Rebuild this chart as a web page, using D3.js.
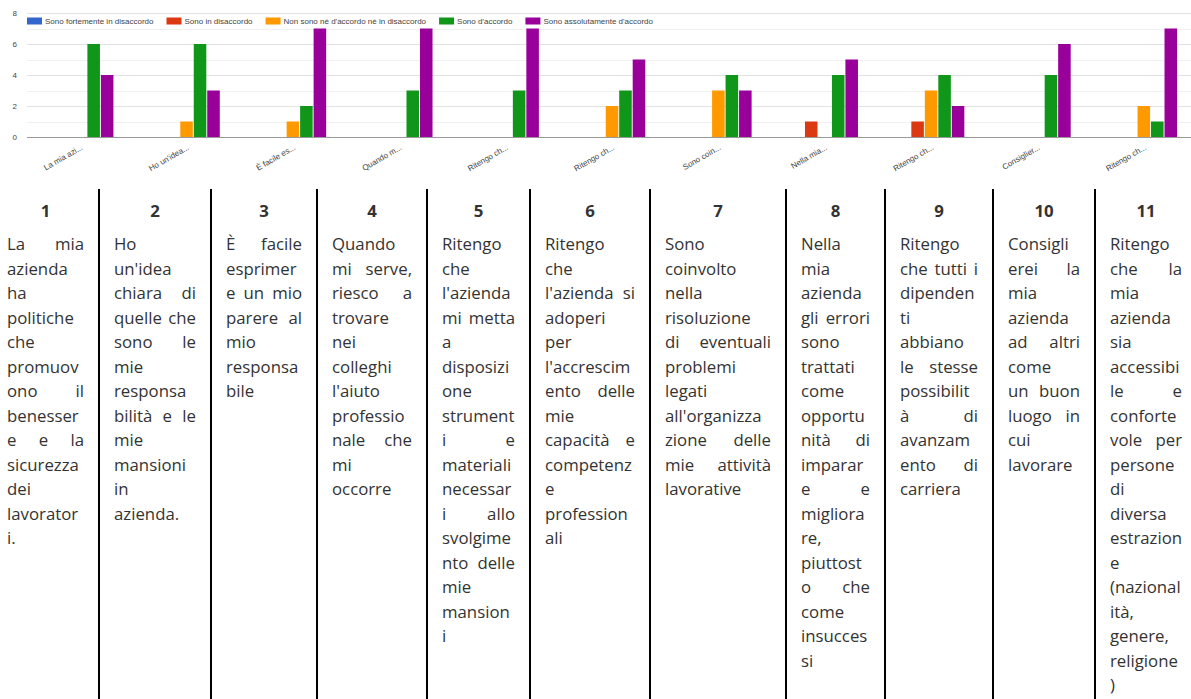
<!DOCTYPE html>
<html>
<head>
<meta charset="utf-8">
<script src="https://cdn.jsdelivr.net/npm/d3@7"></script>
<style>
  html, body { margin: 0; padding: 0; background: #fff; }
  svg { display: block; }
</style>
</head>
<body>
<svg id="page" width="1191" height="699"></svg>
<script>
// ---- survey data ---------------------------------------------------------
const categories = [
  "La mia azi...", "Ho un'idea...", "È facile es...", "Quando m...",
  "Ritengo ch...", "Ritengo ch...", "Sono coin...", "Nella mia...",
  "Ritengo ch...", "Consiglier...", "Ritengo ch..."
];
const seriesNames = [
  "Sono fortemente in disaccordo",
  "Sono in disaccordo",
  "Non sono né d'accordo né in disaccordo",
  "Sono d'accordo",
  "Sono assolutamente d'accordo"
];
const seriesColors = ["#3366cc", "#dc3912", "#ff9900", "#109618", "#990099"];

const stronglyDisagree = [0, 0, 0, 0, 0, 0, 0, 0, 0, 0, 0];
const disagree         = [0, 0, 0, 0, 0, 0, 0, 1, 1, 0, 0];
const neutral          = [0, 1, 1, 0, 0, 2, 3, 0, 3, 0, 2];
const agree            = [6, 6, 2, 3, 3, 3, 4, 4, 4, 4, 1];
const stronglyAgree    = [4, 3, 7, 7, 7, 5, 3, 5, 2, 6, 7];
const seriesValues = [stronglyDisagree, disagree, neutral, agree, stronglyAgree];

const yTicks = [0, 2, 4, 6, 8];
const yGridLines = [1, 2, 3, 4, 5, 6, 7, 8];

// ---- question table ------------------------------------------------------
const questionNumbers = ["1", "2", "3", "4", "5", "6", "7", "8", "9", "10", "11"];
const questionLines = [
  ["La mia", "azienda", "ha", "politiche", "che", "promuov", "ono il", "benesser", "e e la", "sicurezza", "dei", "lavorator", "i."],
  ["Ho", "un'idea", "chiara di", "quelle che", "sono le", "mie", "responsa", "bilità e le", "mie", "mansioni", "in", "azienda."],
  ["È facile", "esprimer", "e un mio", "parere al", "mio", "responsa", "bile"],
  ["Quando", "mi serve,", "riesco a", "trovare", "nei", "colleghi", "l'aiuto", "professio", "nale che", "mi", "occorre"],
  ["Ritengo", "che", "l'azienda", "mi metta", "a", "disposizi", "one", "strument", "i e", "materiali", "necessar", "i allo", "svolgime", "nto delle", "mie", "mansion", "i"],
  ["Ritengo", "che", "l'azienda si", "adoperi", "per", "l'accrescim", "ento delle", "mie", "capacità e", "competenz", "e", "profession", "ali"],
  ["Sono", "coinvolto", "nella", "risoluzione", "di eventuali", "problemi", "legati", "all'organizza", "zione delle", "mie attività", "lavorative"],
  ["Nella", "mia", "azienda", "gli errori", "sono", "trattati", "come", "opportu", "nità di", "imparar", "e e", "migliora", "re,", "piuttost", "o che", "come", "insucces", "si"],
  ["Ritengo", "che tutti i", "dipenden", "ti", "abbiano", "le stesse", "possibilit", "à di", "avanzam", "ento di", "carriera"],
  ["Consigli", "erei la", "mia", "azienda", "ad altri", "come", "un buon", "luogo in", "cui", "lavorare"],
  ["Ritengo", "che la", "mia", "azienda", "sia", "accessibi", "le e", "conforte", "vole per", "persone", "di", "diversa", "estrazion", "e", "(nazional", "ità,", "genere,", "religione", ")"]
];

// ---- layout --------------------------------------------------------------
const W = 1191, H = 699;
const chartFont = "'Liberation Sans', Arial, sans-serif";
const chartFontSize = 8;
const bodyFont = "'Open Sans', 'Noto Sans', sans-serif";
const bodyFontSize = 16.8;
const plot = { left: 27, right: 1197, top: 13, bottom: 137, clipRight: 1191 };
const colEdges = [-8, 99, 211, 317, 427, 530, 650, 786, 885, 993, 1095, 1197];
const cellPadL = 15, cellPadR = 15;
const tableTop = 189;
const headerBaseline = 217;
const firstLineBaseline = 250;
const lineHeight = 24.5;

const svg = d3.select("#page");

function draw() {
  // ---------- grouped column chart ----------
  const chart = svg.append("g").attr("class", "chart");

  const x0 = d3.scaleBand()
    .domain(d3.range(categories.length))
    .range([plot.left, plot.right])
    .paddingInner(0.375)
    .paddingOuter(0.1875);
  const x1 = d3.scaleBand()
    .domain(d3.range(seriesNames.length))
    .range([0, x0.bandwidth()])
    .paddingInner(0.07);
  const y = d3.scaleLinear().domain([0, 8]).range([plot.bottom, plot.top]);

  // gridlines
  chart.append("g").selectAll("line")
    .data(yGridLines)
    .join("line")
    .attr("x1", plot.left).attr("x2", plot.clipRight)
    .attr("y1", d => Math.round(y(d)) + 0.5).attr("y2", d => Math.round(y(d)) + 0.5)
    .attr("stroke", d => d % 2 === 0 ? "#e2e2e2" : "#f0f0f0")
    .attr("stroke-width", 1);

  // y axis labels
  const yAxis = d3.axisLeft(y).tickValues(yTicks).tickSize(0).tickPadding(0);
  const yAxisG = chart.append("g")
    .attr("transform", `translate(${plot.left - 10},0)`)
    .call(yAxis);
  yAxisG.select(".domain").remove();
  yAxisG.selectAll("text")
    .attr("font-family", chartFont)
    .attr("font-size", chartFontSize)
    .attr("fill", "#444");

  // bars
  const groups = chart.append("g").selectAll("g")
    .data(categories.map((c, i) => i))
    .join("g")
    .attr("transform", i => `translate(${x0(i)},0)`);
  groups.selectAll("rect")
    .data(i => seriesValues.map((vals, s) => ({ s, v: vals[i] })).filter(d => d.v > 0))
    .join("rect")
    .attr("x", d => x1(d.s))
    .attr("width", x1.bandwidth())
    .attr("y", d => y(d.v))
    .attr("height", d => y(0) - y(d.v))
    .attr("fill", d => seriesColors[d.s]);

  // baseline
  chart.append("line")
    .attr("x1", plot.left).attr("x2", plot.clipRight)
    .attr("y1", Math.round(y(0)) + 0.5).attr("y2", Math.round(y(0)) + 0.5)
    .attr("stroke", "#9a9a9a").attr("stroke-width", 1);

  // category labels (slanted)
  const xAxis = d3.axisBottom(x0).tickSize(0).tickFormat(i => categories[i]);
  const xAxisG = chart.append("g")
    .attr("transform", `translate(0,${y(0)})`)
    .call(xAxis);
  xAxisG.select(".domain").remove();
  xAxisG.selectAll("text")
    .attr("font-family", chartFont)
    .attr("font-size", chartFontSize)
    .attr("fill", "#444")
    .attr("text-anchor", "end")
    .attr("dy", 0)
    .attr("y", 0)
    .attr("transform", "translate(3,12) rotate(-30)");

  // legend
  const legend = chart.append("g").attr("class", "legend");
  let lx = plot.left;
  seriesNames.forEach((name, s) => {
    legend.append("rect")
      .attr("x", lx).attr("y", 17.5)
      .attr("width", 15).attr("height", 7)
      .attr("fill", seriesColors[s]);
    const t = legend.append("text")
      .attr("x", lx + 18).attr("y", 24)
      .attr("font-family", chartFont)
      .attr("font-size", chartFontSize)
      .attr("fill", "#444")
      .text(name);
    lx += 18 + t.node().getComputedTextLength() + 13;
  });

  // ---------- question table ----------
  const table = svg.append("g").attr("class", "table");

  table.append("g").selectAll("line")
    .data(colEdges.slice(1, -1))
    .join("line")
    .attr("x1", d => d).attr("x2", d => d)
    .attr("y1", tableTop).attr("y2", H)
    .attr("stroke", "#000").attr("stroke-width", 2);

  questionNumbers.forEach((num, c) => {
    const left = colEdges[c] + cellPadL;
    const right = colEdges[c + 1] - cellPadR;
    const avail = right - left;

    table.append("text")
      .attr("x", (left + right) / 2)
      .attr("y", headerBaseline)
      .attr("text-anchor", "middle")
      .attr("font-family", bodyFont)
      .attr("font-weight", 700)
      .attr("font-size", bodyFontSize)
      .attr("fill", "#333")
      .text(num);

    const lines = questionLines[c];
    lines.forEach((line, li) => {
      const baseY = firstLineBaseline + li * lineHeight;
      const words = line.split(" ");
      const isLast = li === lines.length - 1;
      const g = table.append("g");
      const nodes = words.map(w => g.append("text")
        .attr("y", baseY)
        .attr("font-family", bodyFont)
        .attr("font-size", bodyFontSize)
        .attr("fill", "#333")
        .text(w));
      const widths = nodes.map(n => n.node().getComputedTextLength());
      const total = d3.sum(widths);
      if (words.length === 1 || isLast) {
        let x = left;
        const space = 4.5;
        const natural = total + space * (words.length - 1);
        const squeeze = natural > avail ? avail / natural : 1;
        nodes.forEach((n, k) => {
          n.attr("x", x);
          if (squeeze < 1) n.attr("textLength", widths[k] * squeeze).attr("lengthAdjust", "spacingAndGlyphs");
          x += (widths[k] + space) * squeeze;
        });
      } else {
        let gap = (avail - total) / (words.length - 1);
        let squeeze = 1;
        if (gap < 3.5) {
          squeeze = (avail - 3.5 * (words.length - 1)) / total;
          gap = 3.5;
        }
        let x = left;
        nodes.forEach((n, k) => {
          n.attr("x", x);
          if (squeeze < 1) n.attr("textLength", widths[k] * squeeze).attr("lengthAdjust", "spacingAndGlyphs");
          x += widths[k] * squeeze + gap;
        });
      }
    });
  });
}

if (document.fonts && document.fonts.ready) {
  document.fonts.ready.then(draw);
} else {
  draw();
}
</script>
</body>
</html>
